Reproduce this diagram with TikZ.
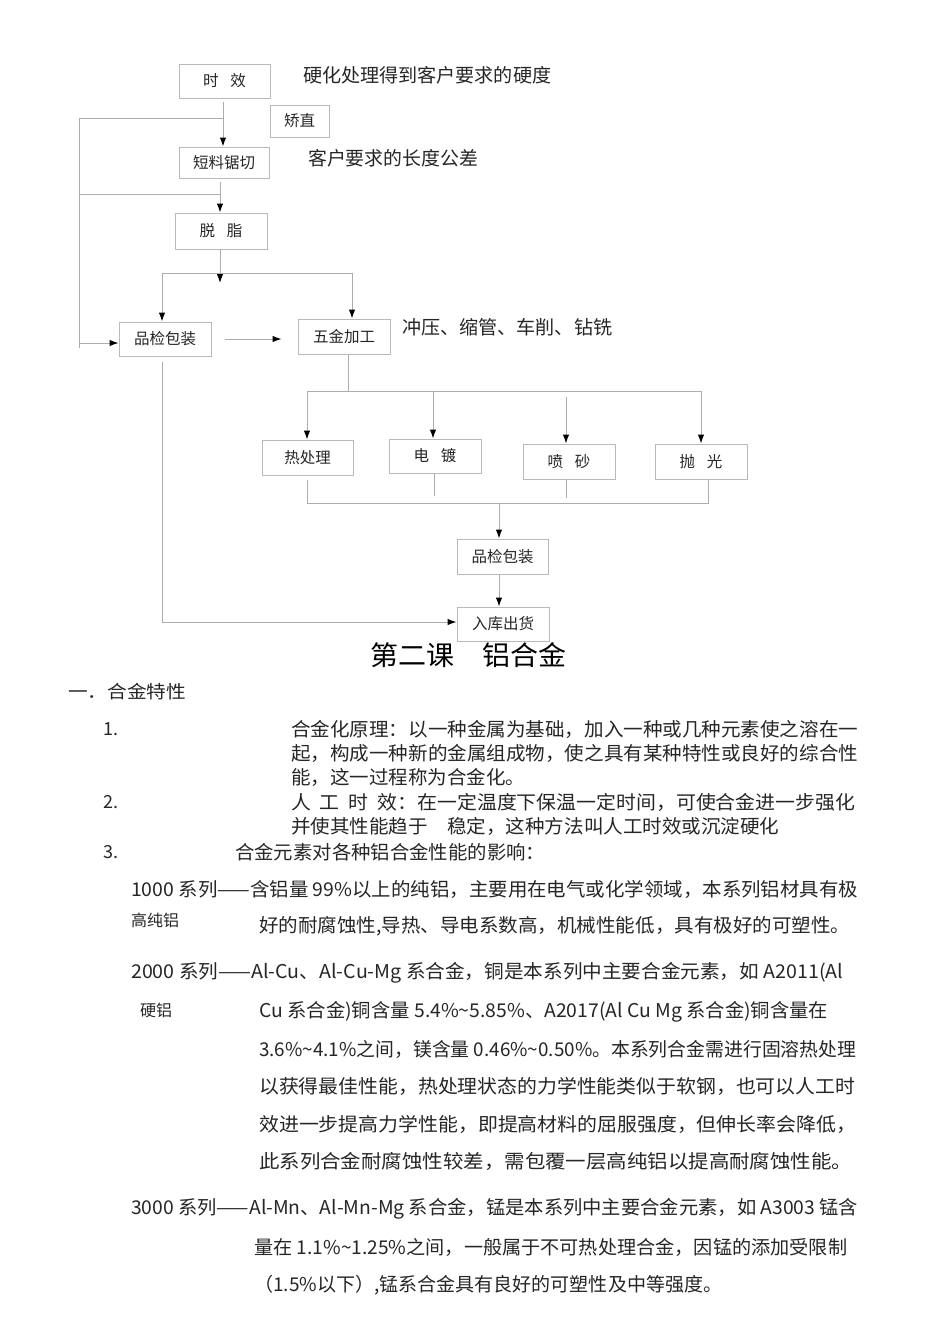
\documentclass[tikz,border=0pt]{standalone}
\usepackage{fontspec}
\setmainfont{Noto Sans CJK SC}
\usepackage{graphicx}
\usetikzlibrary{arrows.meta}
\newcommand{\tline}[5]{\node[txt,anchor=west] (#1) at (#2,#3) {\resizebox{#4pt}{\height}{#5}};}
\newcommand{\gp}{\hspace{0.75em}}
\begin{document}
\begin{tikzpicture}[x=1pt,y=-1pt,
  box/.style={draw=gray!55,line width=1pt,inner sep=0pt,font=\fontsize{15.5}{18}\selectfont,text=black!85},
  ln/.style={draw=gray!65,line width=1pt},
  arr/.style={ln,-{Latex[length=9pt,width=6.5pt,color=black]}},
  txt/.style={inner sep=0pt,font=\fontsize{19}{24}\selectfont,text=black!85},
  lbl/.style={inner sep=0pt,font=\fontsize{18}{22}\selectfont,text=black!85}]
\useasboundingbox[fill=white] (0,0) rectangle (950,1344);

% ---------- boxes ----------
\node[box,minimum width=91pt,minimum height=34pt] (shixiao) at (224.5,81) {时\gp 效};
\node[box,minimum width=59pt,minimum height=32pt] (jiaozhi) at (299.5,121) {矫直};
\node[box,minimum width=90pt,minimum height=31pt] (duanliao) at (224,162.5) {短料锯切};
\node[box,minimum width=92pt,minimum height=36pt] (tuozhi) at (221,231) {脱\gp 脂};
\node[box,minimum width=92pt,minimum height=34pt] (pinjian1) at (165,339) {品检包装};
\node[box,minimum width=92pt,minimum height=35pt] (wujin) at (344,336.5) {五金加工};
\node[box,minimum width=91pt,minimum height=35pt] (rechuli) at (307.5,457.5) {热处理};
\node[box,minimum width=92pt,minimum height=34pt] (diandu) at (435,456) {电\gp 镀};
\node[box,minimum width=92pt,minimum height=35pt] (penza) at (569,461.5) {喷\gp 砂};
\node[box,minimum width=92pt,minimum height=35pt] (paoguang) at (701,461.5) {抛\gp 光};
\node[box,minimum width=91pt,minimum height=35pt] (pinjian2) at (502.5,556.5) {品检包装};
\node[box,minimum width=92pt,minimum height=34pt] (ruku) at (503,624) {入库出货};

% ---------- side labels ----------
\tline{l1}{303}{75}{248}{硬化处理得到客户要求的硬度}
\tline{l2}{308}{158}{170}{客户要求的长度公差}
\tline{l3}{402}{327}{210}{冲压、缩管、车削、钻铣}

% ---------- coordinates ----------
\coordinate (a1) at (223,102);
\coordinate (j1) at (223,118);
\coordinate (L1) at (79,118);
\coordinate (L2) at (79,194);
\coordinate (j2) at (220,194);
\coordinate (L3) at (79,348);
\coordinate (L4) at (79,343);
\coordinate (b1) at (220,182);
\coordinate (c1) at (220,249);
\coordinate (c2) at (220,283);
\coordinate (h1) at (162,273);
\coordinate (h2) at (352,273);
\coordinate (w1) at (348,355);
\coordinate (w2) at (348,391);
\coordinate (r1) at (307,391);
\coordinate (r2) at (701,391);
\coordinate (d1) at (433,391);
\coordinate (p1) at (566,397);
\coordinate (s1) at (307,480);
\coordinate (s1b) at (307,503);
\coordinate (s2) at (434,474);
\coordinate (s2b) at (434,496);
\coordinate (s3) at (566,480);
\coordinate (s3b) at (566,498);
\coordinate (s4) at (708,480);
\coordinate (s4b) at (708,503);
\coordinate (m1) at (499,503);
\coordinate (q1) at (162,362);
\coordinate (q2) at (162,622);

% ---------- connectors ----------
\draw[arr] (a1) -- (a1 |- duanliao.north);
\draw[ln] (j1) -- (L1) -- (L3);
\draw[ln] (j2) -- (L2);
\draw[arr] (b1) -- (b1 |- tuozhi.north);
\draw[arr] (c1) -- (c2);
\draw[ln] (h1) -- (h2);
\draw[arr] (h1) -- (h1 |- pinjian1.north);
\draw[arr] (h2) -- (h2 |- wujin.north);
\draw[arr] (L4) -- (L4 -| pinjian1.west);
\draw[arr,shorten <=13pt,shorten >=16pt] (pinjian1.east) -- (pinjian1.east -| wujin.west);
\draw[ln] (w1) -- (w2);
\draw[ln] (r1) -- (r2);
\draw[arr] (r1) -- (r1 |- rechuli.north);
\draw[arr] (d1) -- (d1 |- diandu.north);
\draw[arr] (p1) -- (p1 |- penza.north);
\draw[arr] (r2) -- (r2 |- paoguang.north);
\draw[ln] (s1) -- (s1b) -- (s4b) -- (s4);
\draw[ln] (s2) -- (s2b);
\draw[ln] (s3) -- (s3b);
\draw[arr] (m1) -- (m1 |- pinjian2.north);
\draw[arr] (pinjian2.south -| m1) -- (ruku.north -| m1);
\draw[ln] (q1) -- (q2);
\draw[arr] (q2) -- (q2 -| ruku.west);

% ---------- text ----------
\node[inner sep=0pt,anchor=west,font=\fontsize{27}{30}\selectfont] (title) at (370,655) {\resizebox{196pt}{\height}{第二课　铝合金}};
\node[lbl,anchor=west] (sec1) at (68,692) {\resizebox{118pt}{\height}{一．合金特性}};
\node[lbl,anchor=west] (n1) at (103,729) {1.};
\tline{t1a}{291}{729}{567}{合金化原理：以一种金属为基础，加入一种或几种元素使之溶在一}
\tline{t1b}{291}{753}{567}{起，构成一种新的金属组成物，使之具有某种特性或良好的综合性}
\tline{t1c}{291}{777}{234}{能，这一过程称为合金化。}
\node[lbl,anchor=west] (n2) at (103,802) {2.};
\tline{t2a}{291}{802}{564}{人\ \ 工\ \ 时\ \ 效：在一定温度下保温一定时间，可使合金进一步强化}
\tline{t2b}{291}{826}{488}{并使其性能趋于　稳定，这种方法叫人工时效或沉淀硬化}
\node[lbl,anchor=west] (n3) at (103,852) {3.};
\tline{t3}{235}{852}{310}{合金元素对各种铝合金性能的影响：}

\tline{s1a}{131}{889}{727}{1000 系列——含铝量 99\%以上的纯铝，主要用在电气或化学领域，本系列铝材具有极}
\node[inner sep=0pt,anchor=west,font=\fontsize{16}{20}\selectfont,text=black!85] (g1) at (131,920) {高纯铝};
\tline{s1b}{259}{926}{591}{好的耐腐蚀性,导热、导电系数高，机械性能低，具有极好的可塑性。}

\tline{s2a}{131}{973}{712}{2000 系列——Al-Cu、Al-Cu-Mg 系合金，铜是本系列中主要合金元素，如 A2011(Al}
\node[inner sep=0pt,anchor=west,font=\fontsize{16}{20}\selectfont,text=black!85] (g2) at (140,1010) {硬铝};
\tline{s2b}{259}{1012}{569}{Cu 系合金)铜含量 5.4\%\textasciitilde5.85\%、A2017(Al Cu Mg 系合金)铜含量在}
\tline{s2c}{259}{1049}{597}{3.6\%\textasciitilde4.1\%之间，镁含量 0.46\%\textasciitilde0.50\%。本系列合金需进行固溶热处理}
\tline{s2d}{259}{1086}{596}{以获得最佳性能，热处理状态的力学性能类似于软钢，也可以人工时}
\tline{s2e}{259}{1124}{597}{效进一步提高力学性能，即提高材料的屈服强度，但伸长率会降低，}
\tline{s2f}{259}{1161}{593}{此系列合金耐腐蚀性较差，需包覆一层高纯铝以提高耐腐蚀性能。}

\tline{s3a}{131}{1209}{727}{3000 系列——Al-Mn、Al-Mn-Mg 系合金，锰是本系列中主要合金元素，如 A3003 锰含}
\tline{s3b}{254}{1247}{593}{量在 1.1\%\textasciitilde1.25\%之间，一般属于不可热处理合金，因锰的添加受限制}
\tline{s3c}{254}{1285}{468}{（1.5\%以下）,锰系合金具有良好的可塑性及中等强度。}
\end{tikzpicture}
\end{document}
